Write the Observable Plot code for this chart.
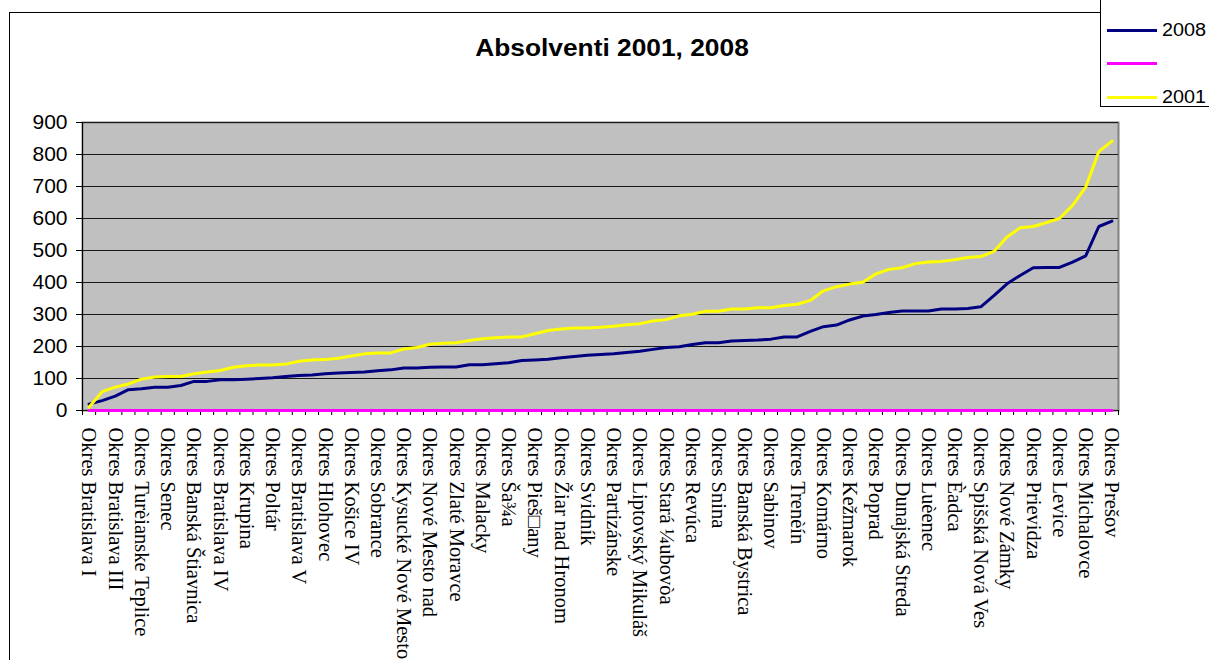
<!DOCTYPE html>
<html>
<head>
<meta charset="utf-8">
<script src="https://cdn.jsdelivr.net/npm/d3@7"></script>
<script src="https://cdn.jsdelivr.net/npm/@observablehq/plot@0.6"></script>
<style>
  html, body { margin: 0; padding: 0; background: #fff; overflow: hidden; }
  #wrap { position: relative; width: 1209px; height: 660px; overflow: hidden; }
  #chart { position: absolute; left: 0; top: 0; }
  #border { position: absolute; left: 9px; top: 12px; width: 1400px; height: 1000px;
            border-left: 1px solid #000; border-top: 1px solid #000; }
  #title { position: absolute; left: 0; top: 34px; width: 1224px; text-align: center;
           font-family: "Liberation Sans", Arial, sans-serif; font-weight: bold; font-size: 23.5px;
           line-height: 28px; transform: scaleX(1.12); transform-origin: 612px 0; }
  #legend { position: absolute; left: 1100px; top: -1px; width: 200px; height: 106px;
            border: 1px solid #000; background: #fff; }
  .lg { position: absolute; left: 6px; width: 200px; height: 24px; }
  .lg .sw { position: absolute; left: 0; top: 11px; width: 50px; height: 3px; }
  .lg .tx { position: absolute; left: 55px; top: 0; font-family: "Liberation Sans", Arial, sans-serif;
            font-size: 18px; line-height: 24px; transform: scaleX(1.1); transform-origin: 0 0; }
</style>
</head>
<body>
<div id="wrap">
  <div id="chart"></div>
  <div id="border"></div>
  <div id="title"></div>
  <div id="legend"></div>
</div>
<script>
const chartTitle = "Absolventi 2001, 2008";
const seriesNames = ["2008", "", "2001"];
const seriesColors = ["#000080", "#FF00FF", "#FFFF00"];

const categories = [
  "Okres Bratislava I", "Okres Medzilaborce", "Okres Bratislava III", "Okres Gelnica",
  "Okres Turèianske Teplice", "Okres Stropkov", "Okres Senec", "Okres Bratislava II",
  "Okres Banská Štiavnica", "Okres Košice I", "Okres Bratislava IV", "Okres Košice II",
  "Okres Krupina", "Okres Košice III", "Okres Poltár", "Okres Žarnovica",
  "Okres Bratislava V", "Okres Bytèa", "Okres Hlohovec", "Okres Myjava",
  "Okres Košice IV", "Okres Levoèa", "Okres Sobrance", "Okres Tvrdošín",
  "Okres Kysucké Nové Mesto", "Okres Detva", "Okres Nové Mesto nad", "Okres Skalica",
  "Okres Zlaté Moravce", "Okres Bánovce nad Bebravou", "Okres Malacky", "Okres Ilava",
  "Okres Ša¾a", "Okres Púchov", "Okres Pieš\u25A1any", "Okres Ve¾ký Krtíš",
  "Okres Žiar nad Hronom", "Okres Pezinok", "Okres Svidník", "Okres Dolný Kubín",
  "Okres Partizánske", "Okres Senica", "Okres Liptovský Mikuláš", "Okres Galanta",
  "Okres Stará ¼ubovòa", "Okres Martin", "Okres Revúca", "Okres Topo¾èany",
  "Okres Snina", "Okres Ružomberok", "Okres Banská Bystrica", "Okres Zvolen",
  "Okres Sabinov", "Okres Trnava", "Okres Trenèín", "Okres Považská Bystrica",
  "Okres Komárno", "Okres Humenné", "Okres Kežmarok", "Okres Rožòava",
  "Okres Poprad", "Okres Brezno", "Okres Dunajská Streda", "Okres Námestovo",
  "Okres Luèenec", "Okres Žilina", "Okres Èadca", "Okres Nitra",
  "Okres Spišská Nová Ves", "Okres Bardejov", "Okres Nové Zámky", "Okres Rimavská Sobota",
  "Okres Prievidza", "Okres Košice - okolie", "Okres Levice", "Okres Trebišov",
  "Okres Michalovce", "Okres Vranov nad Top¾ou", "Okres Prešov"
];

const values2008 = [
  20, 31, 45, 65, 68, 73, 73, 78, 91, 91,
  96, 96, 98, 100, 102, 106, 109, 111, 115, 117,
  119, 120, 124, 127, 133, 133, 135, 136, 136, 143,
  143, 146, 149, 156, 158, 160, 165, 169, 173, 175,
  177, 181, 185, 191, 197, 199, 206, 212, 212, 217,
  219, 220, 223, 230, 230, 247, 262, 267, 283, 295,
  300, 306, 311, 311, 311, 317, 317, 319, 324, 359,
  396, 422, 446, 447, 447, 464, 483, 575, 592
];

const valuesBlank = [
  0, 0, 0, 0, 0, 0, 0, 0, 0, 0,
  0, 0, 0, 0, 0, 0, 0, 0, 0, 0,
  0, 0, 0, 0, 0, 0, 0, 0, 0, 0,
  0, 0, 0, 0, 0, 0, 0, 0, 0, 0,
  0, 0, 0, 0, 0, 0, 0, 0, 0, 0,
  0, 0, 0, 0, 0, 0, 0, 0, 0, 0,
  0, 0, 0, 0, 0, 0, 0, 0, 0, 0,
  0, 0, 0, 0, 0, 0, 0, 0, 0
];

const values2001 = [
  10, 59, 73, 83, 98, 105, 106, 106, 115, 120,
  125, 135, 140, 142, 142, 145, 154, 158, 159, 163,
  170, 177, 180, 180, 192, 197, 207, 210, 212, 219,
  224, 227, 230, 230, 240, 250, 255, 258, 258, 260,
  263, 268, 271, 280, 284, 296, 301, 310, 310, 317,
  317, 321, 321, 328, 332, 344, 374, 387, 395, 401,
  427, 441, 446, 459, 464, 466, 471, 478, 481, 497,
  542, 571, 575, 587, 600, 641, 698, 809, 842
];

const yTicks = [0, 100, 200, 300, 400, 500, 600, 700, 800, 900];

// Build tidy rows from the named arrays
const seriesValues = [values2008, valuesBlank, values2001];
const rows = [];
seriesValues.forEach((vals, s) => {
  vals.forEach((v, i) => rows.push({series: s, idx: i, cat: categories[i], value: v}));
});
const labelRows = categories.map((c, i) => ({idx: i, cat: c})).filter(d => d.idx % 2 === 0);
const boundaryTicks = d3.range(0, categories.length + 1);

const plot = Plot.plot({
  width: 1209,
  height: 660,
  marginLeft: 82,
  marginRight: 91,
  marginTop: 122,
  marginBottom: 250,
  style: {background: "transparent", fontFamily: "'Liberation Sans', Arial, sans-serif", color: "#000"},
  x: {type: "linear", domain: [0, categories.length], axis: null},
  y: {domain: [0, 900], axis: null},
  marks: [
    Plot.frame({fill: "#C0C0C0", stroke: "#808080", strokeWidth: 2}),
    Plot.gridY(yTicks, {stroke: "#1a1a1a", strokeOpacity: 1, strokeWidth: 1}),
    Plot.ruleX([0], {stroke: "#000", strokeWidth: 1}),
    Plot.axisY({ticks: yTicks, tickSize: 6, tickPadding: 9, fontSize: 21, label: null, stroke: "#000"}),
    Plot.axisX({ticks: boundaryTicks, tickSize: 5, tickFormat: () => "", label: null, stroke: "#000"}),
    ...[0, 1, 2].map(s => Plot.line(rows.filter(d => d.series === s), {
      x: d => d.idx + 0.5,
      y: "value",
      stroke: seriesColors[s],
      strokeWidth: 3,
      strokeLinejoin: "miter"
    })),
    Plot.text(labelRows, {
      x: d => d.idx + 0.5,
      text: "cat",
      frameAnchor: "bottom",
      rotate: 90,
      textAnchor: "start",
      lineAnchor: "middle",
      dy: 17,
      fontSize: 20.5,
      fontFamily: "'Liberation Serif', 'Times New Roman', serif",
      fill: "#000"
    })
  ]
});
document.getElementById("chart").appendChild(plot);

document.getElementById("title").textContent = chartTitle;

const legend = document.getElementById("legend");
const legendTops = [18, 51, 85];
seriesNames.forEach((name, s) => {
  const row = document.createElement("div");
  row.className = "lg";
  row.style.top = legendTops[s] + "px";
  const sw = document.createElement("div");
  sw.className = "sw";
  sw.style.background = seriesColors[s];
  const tx = document.createElement("div");
  tx.className = "tx";
  tx.textContent = name;
  row.appendChild(sw);
  row.appendChild(tx);
  legend.appendChild(row);
});
</script>
</body>
</html>
